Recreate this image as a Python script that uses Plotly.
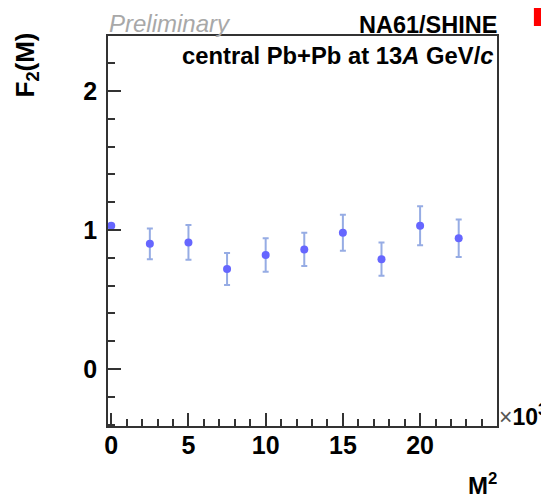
import plotly.graph_objects as go

# Data (M^2 values, F2(M) and statistical errors)
m2_values = [1, 2500, 5000, 7500, 10000, 12500, 15000, 17500, 20000, 22500]
f2_values = [1.03, 0.90, 0.91, 0.72, 0.82, 0.86, 0.98, 0.79, 1.03, 0.94]
f2_errors = [0.0, 0.11, 0.125, 0.115, 0.12, 0.12, 0.13, 0.12, 0.14, 0.135]

x_tick_vals = [0, 5000, 10000, 15000, 20000]
x_tick_text = ["0", "5", "10", "15", "20"]
y_tick_vals = [0, 1, 2]
y_tick_text = ["0", "1", "2"]

FONT = "Liberation Sans, Arial, sans-serif"
# the page body adds an 8px offset, so the figure is 8px smaller
W, H = 541, 490
L, R, T, B = 100, 52, 28, 72

fig = go.Figure()
fig.add_trace(go.Scatter(
    x=m2_values, y=f2_values, mode="markers",
    marker=dict(color="rgb(102,102,255)", size=8, line=dict(width=0)),
    error_y=dict(type="data", array=f2_errors, visible=True,
                 color="rgb(150,172,228)", thickness=2, width=3),
    showlegend=False,
))

axis_common = dict(showgrid=False, zeroline=False, showline=True, mirror=True,
                   linecolor="#333333", linewidth=1.5,
                   ticks="inside", ticklen=13, tickwidth=1.5, tickcolor="#333333",
                   tickfont=dict(family=FONT, size=25, color="black"))

fig.update_layout(
    width=W, height=H,
    margin=dict(l=L, r=R, t=T, b=B, pad=0),
    plot_bgcolor="white", paper_bgcolor="white",
    xaxis=dict(range=[-210, 24980], tickvals=x_tick_vals,
               ticktext=[f"<b>{t}</b>" for t in x_tick_text],
               minor=dict(ticks="inside", ticklen=7, tickwidth=1.5, tickcolor="#333333",
                          tick0=0, dtick=1000),
               ticklabelstandoff=-4,
               **axis_common),
    yaxis=dict(range=[-0.41, 2.395], tickvals=y_tick_vals,
               ticktext=[f"<b>{t}</b>" for t in y_tick_text],
               minor=dict(ticks="inside", ticklen=7, tickwidth=1.5, tickcolor="#333333",
                          tick0=0, dtick=0.2),
               ticklabelstandoff=4,
               **axis_common),
)

ann = [
    dict(text="<i>Preliminary</i>", x=0, y=1, xanchor="left", yanchor="bottom",
         xshift=-1, yshift=-3, font=dict(family=FONT, size=24, color="#a8a8a8")),
    dict(text="<b>NA61/SHINE</b>", x=1, y=1, xanchor="right", yanchor="bottom",
         xshift=2, yshift=-4, font=dict(family=FONT, size=23.5, color="black")),
    dict(text="<b>central Pb+Pb at 13<i>A</i> GeV/<i>c</i></b>", x=1, y=1,
         xanchor="right", yanchor="top", xshift=-1, yshift=-4,
         font=dict(family=FONT, size=23.8, color="black")),
    dict(text="<span style='color:#555555'>×</span><b>10<sup>3</sup></b>", x=1, y=0,
         xanchor="left", yanchor="bottom", xshift=0, yshift=-6,
         font=dict(family=FONT, size=23, color="black")),
    dict(text="<b>M<sup>2</sup></b>", x=1, y=0, xanchor="right", yanchor="top",
         xshift=2, yshift=-41, font=dict(family=FONT, size=24, color="black")),
    dict(text="<b>F<sub>2</sub>(M)</b>", x=(18 - L) / (W - L - R), y=1,
         xanchor="center", yanchor="top", textangle=-90, yshift=5,
         font=dict(family=FONT, size=26, color="black")),
    dict(text="<b>p</b>", x=1, y=1, xanchor="left", yanchor="bottom",
         xshift=31, yshift=8, font=dict(family=FONT, size=56, color="red")),
]
for a in ann:
    a.update(xref="paper", yref="paper", showarrow=False)
fig.update_layout(annotations=ann)

fig.write_html("out.html")
